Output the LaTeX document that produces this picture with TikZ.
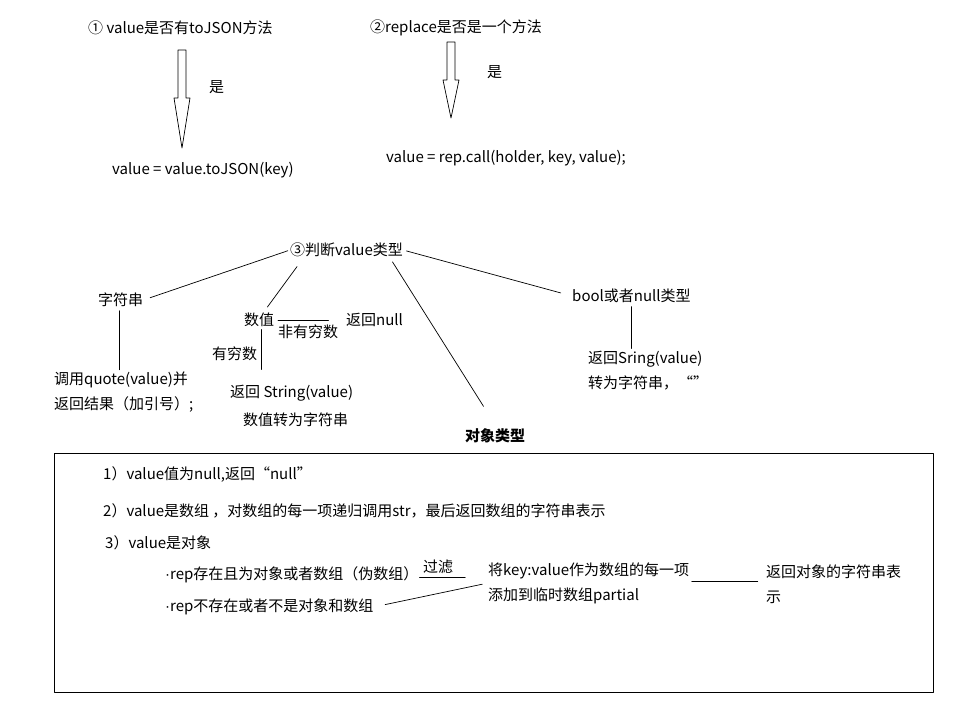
\documentclass[tikz,border=0pt]{standalone}
\usepackage{fontspec}
\setmainfont{Noto Sans CJK SC}
\newfontfamily\dotfont{Liberation Sans}
\usetikzlibrary{positioning,calc}

\begin{document}
\begin{tikzpicture}[x=0.03cm,y=-0.03cm, font=\fontsize{12.8}{21.3}\selectfont, line cap=round, line join=round]
	\useasboundingbox (0,0) rectangle (964,705);
	\tikzset{txt/.style={anchor=west, inner sep=0pt, align=left},
		conn/.style={draw=black, line width=0.6pt}}
	
	% ===== hollow block arrows (1, 2) =====
	\foreach \x/\ya/\yb/\yc in {182/50/98/148, 451/42/80/118}{
		\draw[line width=0.6pt] (\x-4,\ya) -- (\x+4,\ya) -- (\x+4,\yb) -- (\x+8,\yb)
		-- (\x,\yc) -- (\x-8,\yb) -- (\x-4,\yb) -- cycle;
	}
	
	% ===== step 1 / step 2 =====
	\node[txt] (q1) at (88,28) {① value是否有toJSON方法};
	\node[txt] (yes1) at (209,87) {是};
	\node[txt] (tojson) at (112,170) {value = value.toJSON(key)};
	
	\node[txt] (q2) at (370,28) {②replace是否是一个方法};
	\node[txt] (yes2) at (487,72) {是};
	\node[txt] (repcall) at (386,158) {value = rep.call(holder, key, value);};
	
	% ===== step 3: type of value =====
	\node[txt] (judge) at (290,250) {③判断value类型};
	
	\node[txt] (str) at (98,300) {字符串};
	\node[txt] (quote) at (54,392.5) {调用quote(value)并\\返回结果（加引号）;};
	
	\node[txt] (num) at (244,320) {数值};
	\node[txt] (inf) at (278,332) {非有穷数};
	\node[txt] (retnull) at (346,320) {返回null};
	\node[txt] (fin) at (212,354) {有穷数};
	\node[txt] (retstr) at (230,393) {返回 String(value)};
	\node[txt] (numstr) at (243,420) {数值转为字符串};
	
	\node[txt] (bool) at (572,296) {bool或者null类型};
	\node[txt] (retbool) at (588,370.5) {返回Sring(value)\\转为字符串，“”};
	
	\node[txt, font=\fontsize{12.8}{21.3}\selectfont\bfseries] (obj) at (465,436) {对象类型};
	
	\draw[conn, shorten <=2pt, shorten >=6pt] (judge.west) -- (str.east);
	\draw[conn] ([xshift=6pt,yshift=-8pt]judge.south west) -- ([xshift=7pt,yshift=5pt]num.north);
	\draw[conn] ([xshift=-9pt,yshift=-4pt]judge.south east) -- ([xshift=-10pt,yshift=19pt]obj.north);
	\draw[conn, shorten <=3pt, shorten >=10pt] (judge.east) -- (bool.west);
	
	\draw[conn, shorten <=3pt, shorten >=2pt] ([xshift=-1pt]str.south) -- ([xshift=-1pt]str.south |- quote.north);
	\draw[conn, shorten <=3pt, shorten >=15pt] (num.east) -- (retnull.west);
	\draw[conn, shorten <=2pt, shorten >=13pt] ([xshift=2pt]num.south) -- ([xshift=2pt]num.south |- retstr.north);
	\draw[conn, shorten <=3pt, shorten >=2pt] (bool.south) -- (bool.south |- retbool.north);
	
	% ===== object box =====
	\draw[line width=0.6pt] (54,453) rectangle (933,692);
	
	\node[txt] (c1) at (103,474) {1）value值为null,返回“null”};
	\node[txt] (c2) at (103,511) {2）value是数组 ，对数组的每一项递归调用str，最后返回数组的字符串表示};
	\node[txt] (c3) at (105,543) {3）value是对象};
	\node[txt] (repyes) at (165,575) {{\dotfont·}rep存在且为对象或者数组（伪数组）};
	\node[txt] (filter) at (423,567) {过滤};
	\node[txt] (repno) at (165,607) {{\dotfont·}rep不存在或者不是对象和数组};
	\node[txt] (partial) at (488,583) {将key:value作为数组的每一项\\添加到临时数组partial};
	\node[txt] (retobj) at (766,584) {返回对象的字符串表\\示};
	
	\draw[conn] ([xshift=-3pt,yshift=-3pt]filter.south west) -- ([xshift=10pt,yshift=-3pt]filter.south east);
	\draw[conn, shorten <=10pt, shorten >=5pt] (repno.east) -- (partial.west);
	\draw[conn, shorten <=2pt, shorten >=7pt] ([yshift=1pt]partial.east) -- ([yshift=1pt]partial.east -| retobj.west);
\end{tikzpicture}
\end{document}
